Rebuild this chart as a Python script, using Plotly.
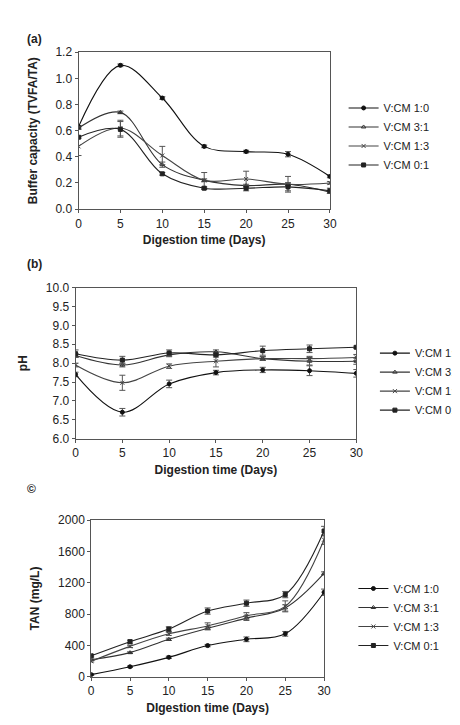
import plotly.graph_objects as go

days = [0, 5, 10, 15, 20, 25, 30]
names = ["V:CM 1:0", "V:CM 3:1", "V:CM 1:3", "V:CM 0:1"]
names_b = ["V:CM 1:C", "V:CM 3:1l", "V:CM 1:3", "V:CM 0:1l"]

# (a) buffer capacity
bc = [
    [0.63, 1.10, 0.85, 0.48, 0.44, 0.42, 0.25],
    [0.62, 0.74, 0.34, 0.22, 0.18, 0.19, 0.13],
    [0.48, 0.62, 0.41, 0.22, 0.23, 0.19, 0.20],
    [0.55, 0.61, 0.27, 0.16, 0.16, 0.17, 0.14],
]
bc_err = [
    [0.01, 0.01, 0.01, 0.01, 0.01, 0.02, 0.01],
    [0.01, 0.01, 0.02, 0.01, 0.01, 0.01, 0.01],
    [0.07, 0.06, 0.07, 0.06, 0.06, 0.06, 0.01],
    [0.01, 0.06, 0.01, 0.01, 0.02, 0.03, 0.02],
]
# (b) pH
ph = [
    [7.70, 6.70, 7.45, 7.75, 7.82, 7.80, 7.73],
    [8.20, 7.95, 8.22, 8.30, 8.12, 8.05, 8.05],
    [7.95, 7.48, 7.92, 8.05, 8.12, 8.12, 8.15],
    [8.25, 8.08, 8.27, 8.22, 8.33, 8.38, 8.42],
]
ph_err = [
    [0.06, 0.10, 0.10, 0.06, 0.07, 0.13, 0.10],
    [0.05, 0.05, 0.05, 0.05, 0.05, 0.10, 0.08],
    [0.05, 0.20, 0.06, 0.15, 0.05, 0.06, 0.08],
    [0.10, 0.10, 0.08, 0.06, 0.12, 0.10, 0.03],
]
# (c) TAN
tan = [
    [30, 130, 250, 400, 480, 550, 1080],
    [220, 310, 480, 620, 750, 880, 1320],
    [200, 390, 550, 650, 780, 900, 1750],
    [270, 450, 610, 840, 940, 1050, 1860],
]
tan_err = [
    [10, 10, 15, 15, 30, 30, 40],
    [10, 10, 15, 20, 30, 40, 20],
    [10, 15, 20, 40, 40, 70, 60],
    [15, 20, 30, 40, 40, 40, 60],
]

symbols = ["circle", "triangle-up-open", "x-thin-open", "square"]
colors = ["#111", "#333", "#444", "#222"]

W, H = 460, 725
def dom(a, b, total):
    return [a / total, b / total]
def ydom(top, bot):
    return [1 - bot / H, 1 - top / H]

fig = go.Figure()
panels = [
    (bc, bc_err, names, "", "legend"),
    (ph, ph_err, names_b, "2", "legend2"),
    (tan, tan_err, names, "3", "legend3"),
]
for vals, errs, nms, ax, leg in panels:
    for i in range(4):
        fig.add_trace(go.Scatter(
            x=days, y=vals[i], name=nms[i], mode="lines+markers",
            line=dict(shape="spline", color=colors[i], width=1.1),
            marker=dict(symbol=symbols[i], size=4, color=colors[i],
                        line=dict(color=colors[i], width=1)),
            error_y=dict(type="data", array=errs[i], color="#555", thickness=1, width=3),
            xaxis="x" + ax, yaxis="y" + ax, legend=leg,
        ))

font = dict(family="Liberation Sans, Arial", size=12, color="#222")
ax_common = dict(showline=True, linecolor="#555", mirror=True, showgrid=False,
                 zeroline=False, ticks="outside", ticklen=3, tickcolor="#555")
xa = dict(ax_common, range=[0, 30], dtick=5)
title_font = dict(family="Liberation Sans, Arial", size=12, color="#222")

fig.update_layout(
    width=W, height=H, margin=dict(l=0, r=0, t=0, b=0),
    paper_bgcolor="white", plot_bgcolor="white", font=font,
    xaxis=dict(xa, domain=dom(69, 326, W), anchor="y",
               title=dict(text="<b>Digestion time (Days)</b>", font=title_font, standoff=6)),
    yaxis=dict(ax_common, domain=ydom(38, 198), range=[-0.0005, 1.2], tickmode="array",
               tickvals=[0, 0.2, 0.4, 0.6, 0.8, 1.0, 1.2],
               ticktext=["0.0", "0.2", "0.4", "0.6", "0.8", "1.0", "1.2"],
               anchor="x", title=dict(text="<b>Buffer capacity (TVFA/TA)</b>", font=title_font)),
    xaxis2=dict(xa, domain=dom(66, 353, W), anchor="y2",
                title=dict(text="<b>Digestion time (Days)</b>", font=title_font, standoff=6)),
    yaxis2=dict(ax_common, domain=ydom(278, 432), range=[6, 10], dtick=0.5, tickformat=".1f",
                anchor="x2", title=dict(text="<b>pH</b>", font=title_font)),
    xaxis3=dict(xa, domain=dom(82, 320, W), anchor="y3",
                title=dict(text="<b>DIgestion time (Days)</b>", font=title_font, standoff=6)),
    yaxis3=dict(ax_common, domain=ydom(515, 675), range=[0, 2000], dtick=400,
                anchor="x3", title=dict(text="<b>TAN (mg/L)</b>", font=title_font)),
    legend=dict(x=340 / W, y=1 - 80 / H, yanchor="top", font=dict(size=11)),
    legend2=dict(x=372 / W, y=1 - 330 / H, yanchor="top", font=dict(size=11)),
    legend3=dict(x=350 / W, y=1 - 570 / H, yanchor="top", font=dict(size=11)),
    showlegend=True,
)
for txt, y in [("<b>(a)</b>", 15), ("<b>(b)</b>", 254), ("<b>©</b>", 493)]:
    fig.add_annotation(text=txt, x=14 / W, y=1 - y / H, xref="paper", yref="paper",
                       showarrow=False, xanchor="left", font=dict(size=12, color="#222"))

fig.write_html("out.html")
